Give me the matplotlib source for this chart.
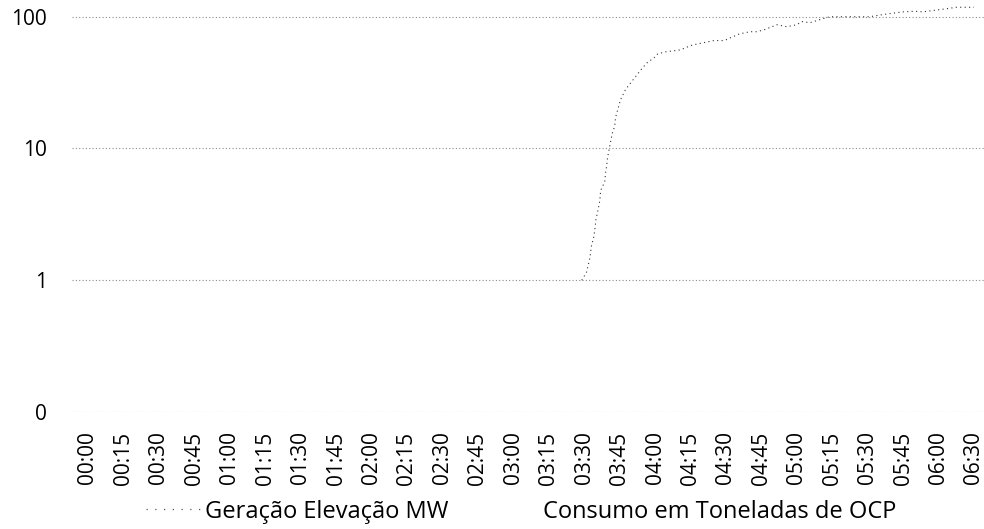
import numpy as np
import matplotlib
matplotlib.use("Agg")
import matplotlib.pyplot as plt
from matplotlib.ticker import FixedLocator, FixedFormatter
from matplotlib.lines import Line2D

plt.rcParams['font.family'] = ['Open Sans', 'DejaVu Sans']

# Category labels on the time axis (06:15 is not in the sheet)
tick_labels = ["00:00", "00:15", "00:30", "00:45", "01:00", "01:15", "01:30", "01:45",
               "02:00", "02:15", "02:30", "02:45", "03:00", "03:15", "03:30", "03:45",
               "04:00", "04:15", "04:30", "04:45", "05:00", "05:15", "05:30", "05:45",
               "06:00", "06:30"]

# Geração Elevação MW: time (minutes after 00:00) and value
gen_minutes = [209, 211, 212, 212.5, 213, 214, 214.5, 215, 215.7, 216.6, 217, 218.7,
               219.1, 219.5, 219.9, 220.8, 221.2, 222, 222.9, 223.3, 224.2, 225.4,
               227.5, 231.7, 234.7, 236.8, 239.7, 241, 244, 250.7, 253.7, 255.8, 265,
               269.3, 275.6, 280.2, 283.1, 286.5, 291.6, 295.8, 300, 302.1, 305.5,
               309.7, 313.9, 318.1, 322.3, 330.8, 336.6, 345.1, 349.7, 353.5, 366.7,
               375, 390]
gen_values = [1.0, 1.15, 1.37, 1.5, 1.8, 2.1, 2.4, 2.9, 3.3, 4.0, 4.8, 5.6,
              6.6, 7.3, 8.5, 10.4, 11.3, 13.2, 14.7, 17.2, 19.7, 23.5,
              28, 35, 41, 45, 49, 52, 54, 56, 59, 61, 66,
              66, 74, 77, 77, 80, 87, 84, 87, 92, 90,
              95, 100, 100, 100, 100, 104, 109, 110, 109, 115,
              118, 118]

# Consumo em Toneladas de OCP (no readings in this window)
ocp_minutes = []
ocp_values = []

y_ticks = [0.1, 1, 10, 100]
y_tick_labels = ["0", "1", "10", "100"]

label_minutes = [int(t[:2]) * 60 + int(t[3:]) for t in tick_labels]
label_slots = np.arange(len(tick_labels))


def to_slot(minutes):
    return np.interp(minutes, label_minutes, label_slots)


fig = plt.figure(figsize=(9.84, 5.29), dpi=100)
ax = fig.add_axes([72 / 984, 1 - 412 / 529, (984 - 72) / 984, (412 - 0) / 529])

ax.set_yscale('log')
ax.set_ylim(0.1, 134)
spp = 35.44  # pixels per category slot
ax.set_xlim(-16 / spp, 25 + 10 / spp)

for yv in y_ticks:
    ax.axhline(yv, color='#8c8c8c', lw=0.8, ls=(0, (1, 2)), zorder=1)

ax.plot(to_slot(gen_minutes), gen_values, color='#333333', lw=0.8,
        ls=(0, (1, 3)), zorder=3, clip_on=True)
if ocp_minutes:
    ax.plot(to_slot(ocp_minutes), ocp_values, color='none')

ax.yaxis.set_major_locator(FixedLocator(y_ticks))
ax.yaxis.set_major_formatter(FixedFormatter(y_tick_labels))
ax.yaxis.set_minor_locator(FixedLocator([]))
ax.set_xticks(label_slots)
ax.set_xticklabels(tick_labels, rotation=90, fontsize=15)
ax.tick_params(axis='y', labelsize=15, length=0, pad=18)
ax.tick_params(axis='x', length=0, pad=14)
for s in ax.spines.values():
    s.set_visible(False)

handles = [Line2D([], [], color='#555555', lw=0.9, ls=(0, (1, 6))),
           Line2D([], [], color='none')]
fig.legend(handles, ["Geração Elevação MW", "Consumo em Toneladas de OCP"],
           loc='lower center', bbox_to_anchor=(0.53, -0.03), ncol=2, frameon=False,
           fontsize=17, handlelength=2.3, columnspacing=1.5, handletextpad=0.2)

fig.savefig("out.png", dpi=100)
